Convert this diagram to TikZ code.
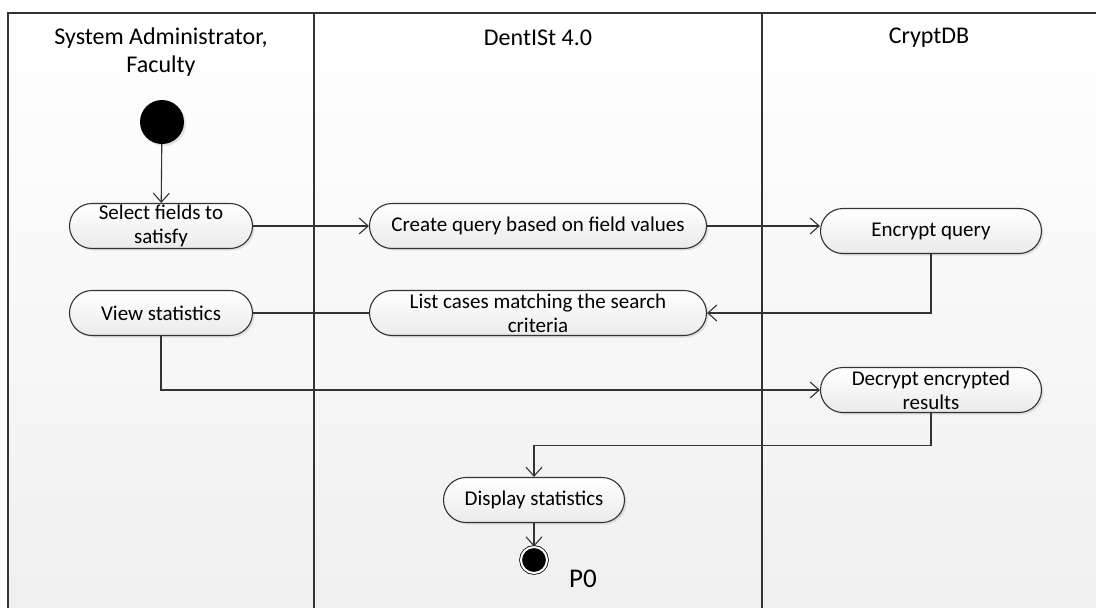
\documentclass[tikz,border=0pt]{standalone}
\usepackage{fontspec}
\setmainfont{Carlito}
\usetikzlibrary{arrows.meta, shadows}

\begin{document}
\begin{tikzpicture}[x=1pt, y=-1pt, >={Straight Barb[length=9pt, width=16pt]},
  action/.style={draw=black!80, line width=1.1pt, rectangle, rounded corners=22.5pt,
    minimum height=45pt, inner sep=0pt, align=center, top color=white, bottom color=black!8,
    drop shadow={opacity=0.2, shadow xshift=2pt, shadow yshift=-2pt},
    font=\fontsize{21}{24}\selectfont},
  lanelabel/.style={align=center, font=\fontsize{24}{28}\selectfont},
  flow/.style={->, line width=1.1pt, draw=black!80},
  lane/.style={line width=1.3pt, draw=black!80}]

  \useasboundingbox (0,0) rectangle (1096,608);

  % Background of the swimlanes, light grey towards the bottom
  \shade[top color=white, bottom color=black!6] (8,13) rectangle (1096,608);
  \draw[lane] (8,608) -- (8,13) -- (1096,13);
  \draw[lane] (314,13) -- (314,608);
  \draw[lane] (762,13) -- (762,608);

  % Lane headers
  \node[lanelabel] (sysadm) at (161,52) {System Administrator,\\Faculty};
  \node[lanelabel] (dentist) at (538,38) {DentISt 4.0};
  \node[lanelabel] (cryptdb) at (929,38) {CryptDB};

  % Start and end states
  \node[circle, fill=black, minimum size=44pt,
    drop shadow={opacity=0.2, shadow xshift=2pt, shadow yshift=-2pt}] (start) at (162,122) {};
  \node[circle, fill=black, draw=black, line width=0.8pt, double=white, double distance=2pt,
    minimum size=26pt, inner sep=0pt] (final) at (534,560) {};
  \node[font=\fontsize{27}{30}\selectfont] (p0) at (583,579) {P0};

  % Actions
  \node[action, minimum width=183pt] (select) at (161,226) {Select fields to\\satisfy};
  \node[action, minimum width=337pt] (create) at (538,226) {Create query based on field values};
  \node[action, minimum width=221pt] (encrypt) at (931,231) {Encrypt query};
  \node[action, minimum width=183pt] (view) at (161,313) {View statistics};
  \node[action, minimum width=337pt] (list) at (538,313) {List cases matching the search\\criteria};
  \node[action, minimum width=221pt] (decrypt) at (931,390) {Decrypt encrypted\\results};
  \node[action, minimum width=181pt] (display) at (534,500) {Display statistics};

  % Control flow
  \draw[flow] (start) -- (select);
  \draw[flow] (select) -- (create);
  \draw[flow] (create.east) -- (create.east -| encrypt.west);
  \draw[flow] (encrypt.south) |- (list.east);
  \draw[flow, -] (view) -- (list);
  \draw[flow] (view.south) |- (decrypt.west);
  \draw[flow] (decrypt.south) -- ++(0,32) -| (display.north);
  \draw[flow] (display) -- (final);

\end{tikzpicture}
\end{document}
